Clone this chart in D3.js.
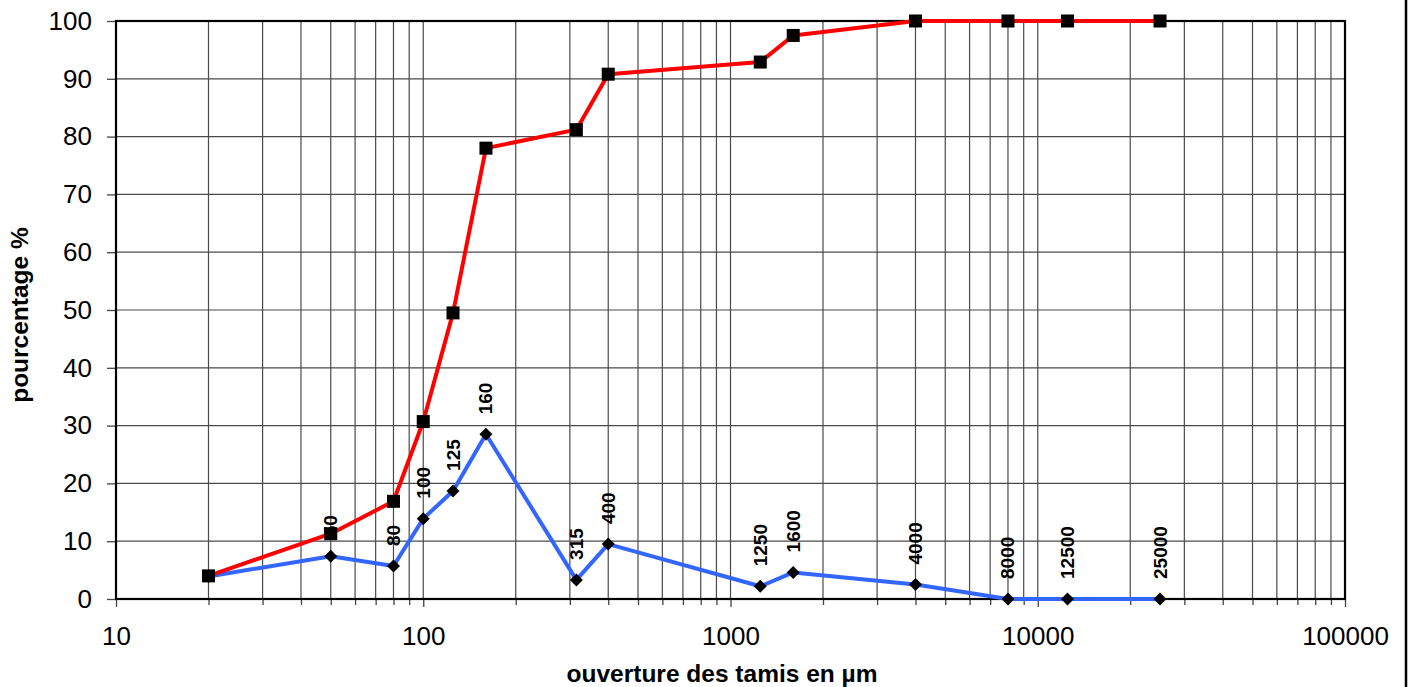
<!DOCTYPE html>
<html>
<head>
<meta charset="utf-8">
<script src="https://cdn.jsdelivr.net/npm/d3@7"></script>
<style>
  html, body { margin: 0; padding: 0; background: #fff; }
  svg { display: block; font-family: "Liberation Sans", Arial, sans-serif; }
</style>
</head>
<body>
<svg id="chart" width="1409" height="687"></svg>
<script>
// ---- data ----
const sieves = [20, 50, 80, 100, 125, 160, 315, 400, 1250, 1600, 4000, 8000, 12500, 25000];
const cumulative = [4, 11.3, 16.9, 30.7, 49.5, 78, 81.2, 90.8, 92.9, 97.5, 100, 100, 100, 100];
const retained = [3.9, 7.4, 5.7, 13.9, 18.7, 28.5, 3.3, 9.5, 2.2, 4.6, 2.5, 0, 0, 0];
const pointLabels = ["", "50", "80", "100", "125", "160", "315", "400", "1250", "1600", "4000", "8000", "12500", "25000"];
const yTicks = [0, 10, 20, 30, 40, 50, 60, 70, 80, 90, 100];
const xMajorTicks = [10, 100, 1000, 10000, 100000];
const xTitle = "ouverture des tamis en µm";
const yTitle = "pourcentage %";

// ---- layout ----
const L = 116, R = 1345, T = 21, B = 599;
const svg = d3.select("#chart");
const x = d3.scaleLog().domain([10, 100000]).range([L, R]);
const y = d3.scaleLinear().domain([0, 100]).range([B, T]);

const allX = [];
for (let e = 1; e <= 4; e++) for (let k = 1; k <= 9; k++) allX.push(k * Math.pow(10, e));
allX.push(100000);

// gridlines
const grid = svg.append("g");
grid.selectAll("line.v").data(allX).join("line")
  .attr("x1", d => x(d)).attr("x2", d => x(d))
  .attr("y1", T).attr("y2", B)
  .attr("stroke", "#4a4a4a").attr("stroke-width", 1.2);
grid.selectAll("line.h").data(yTicks).join("line")
  .attr("x1", L).attr("x2", R)
  .attr("y1", d => y(d)).attr("y2", d => y(d))
  .attr("stroke", "#4a4a4a").attr("stroke-width", 1.2);

// axes
const xAxis = d3.axisBottom(x).tickValues(allX)
  .tickSize(6).tickPadding(22)
  .tickFormat(d => xMajorTicks.includes(d) ? String(d) : "");
const gx = svg.append("g").attr("transform", `translate(0,${B})`).call(xAxis);
gx.select(".domain").remove();
gx.selectAll(".tick line").attr("stroke", "#444").attr("stroke-width", 1.3)
  .attr("y2", d => xMajorTicks.includes(d) ? 8 : 6);
gx.selectAll(".tick text").attr("font-size", 26).attr("fill", "#000")
  .attr("font-family", "Liberation Sans, Arial, sans-serif");

const yAxis = d3.axisLeft(y).tickValues(yTicks).tickSize(9).tickPadding(15);
const gy = svg.append("g").attr("transform", `translate(${L},0)`).call(yAxis);
gy.select(".domain").remove();
gy.selectAll(".tick line").attr("stroke", "#444").attr("stroke-width", 1.3);
gy.selectAll(".tick text").attr("font-size", 26).attr("fill", "#000")
  .attr("font-family", "Liberation Sans, Arial, sans-serif");

// frame
svg.append("rect").attr("x", L).attr("y", T).attr("width", R - L).attr("height", B - T)
  .attr("fill", "none").attr("stroke", "#000").attr("stroke-width", 2.2);
svg.append("line").attr("x1", 1406).attr("x2", 1406).attr("y1", 0).attr("y2", 687)
  .attr("stroke", "#000").attr("stroke-width", 2.5);

const line = (vals) => d3.line().x((d, i) => x(sieves[i])).y(d => y(d))(vals);

// retained (blue) series
svg.append("path").attr("d", line(retained)).attr("fill", "none")
  .attr("stroke", "#3366ff").attr("stroke-width", 4).attr("stroke-linejoin", "round");
svg.selectAll("path.dia").data(retained).join("path")
  .attr("transform", (d, i) => `translate(${x(sieves[i])},${y(d)})`)
  .attr("d", "M0,-6.5L6.5,0L0,6.5L-6.5,0Z").attr("fill", "#000");

// labels
svg.selectAll("text.pl").data(retained).join("text")
  .attr("transform", (d, i) => `translate(${x(sieves[i])},${y(d) - 20}) rotate(-90)`)
  .attr("text-anchor", "start").attr("dominant-baseline", "central")
  .attr("font-size", 19).attr("font-weight", "bold").attr("fill", "#000")
  .text((d, i) => pointLabels[i]);

// cumulative (red) series
svg.append("path").attr("d", line(cumulative)).attr("fill", "none")
  .attr("stroke", "#ff0000").attr("stroke-width", 4).attr("stroke-linejoin", "round");
svg.selectAll("rect.sq").data(cumulative).join("rect")
  .attr("x", (d, i) => x(sieves[i]) - 6.5).attr("y", d => y(d) - 6.5)
  .attr("width", 13).attr("height", 13).attr("fill", "#000");

// titles
svg.append("text").attr("x", 722).attr("y", 682).attr("text-anchor", "middle")
  .attr("font-size", 24.5).attr("font-weight", "bold").text(xTitle);
svg.append("text").attr("transform", "translate(28,315) rotate(-90)").attr("text-anchor", "middle")
  .attr("font-size", 24.5).attr("font-weight", "bold").text(yTitle);
</script>
</body>
</html>
